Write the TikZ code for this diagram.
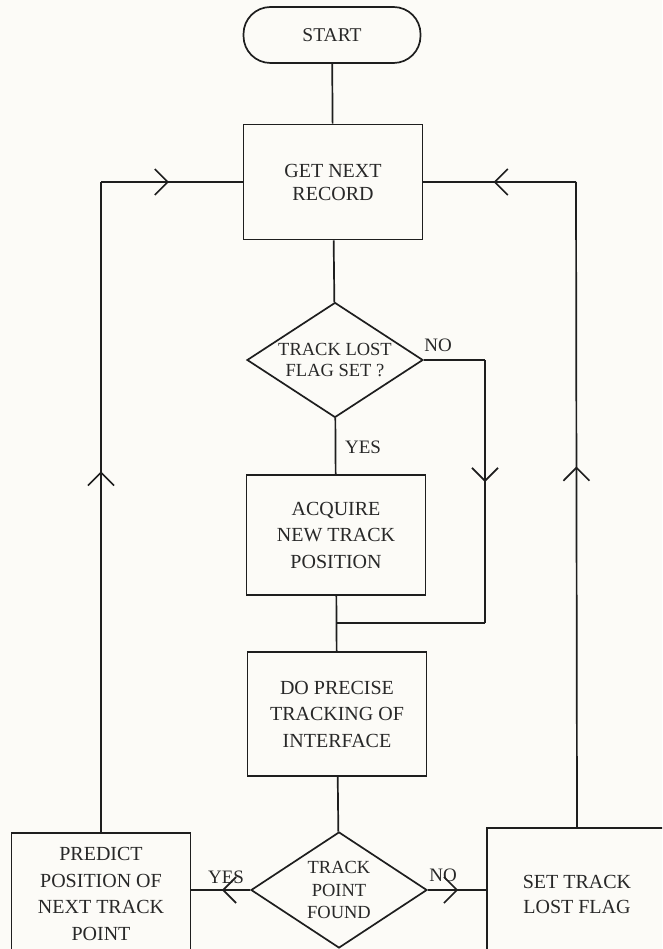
\documentclass[tikz,border=0pt]{standalone}
\usepackage{fontspec}
\setmainfont{Liberation Serif}
\usetikzlibrary{shapes.geometric,arrows.meta,decorations.markings}
\definecolor{bgcol}{RGB}{252,251,247}
\definecolor{inkcol}{RGB}{30,30,30}
\definecolor{txtcol}{RGB}{40,40,40}
\begin{document}
\begin{tikzpicture}[x=1pt,y=-1pt,
  every node/.style={text=txtcol},
  boxn/.style={draw=inkcol, line width=1.7pt, rectangle, minimum width=179pt, align=center,
    font=\fontsize{20}{26.5}\selectfont, inner sep=0pt},
  dia/.style={draw=inkcol, line width=1.7pt, shape=diamond, minimum width=176pt, minimum height=115pt,
    inner sep=-14pt, align=center, font=\fontsize{18.5}{21}\selectfont},
  lbl/.style={font=\fontsize{19}{22}\selectfont, inner sep=0pt},
  flow/.style={draw=inkcol, line width=1.7pt},
  midarrow/.style={postaction={decorate, decoration={markings,
    mark=at position #1 with {\arrow[inkcol]{Straight Barb[length=13pt,width=26pt]}}}}}
]
\fill[bgcol] (0,0) rectangle (662,949);
\useasboundingbox (0,0) rectangle (662,949);
\clip (0,0) rectangle (662,949);

% nodes
\node[draw=inkcol, line width=1.7pt, rectangle, rounded corners=27pt, minimum width=177pt,
  minimum height=56pt, font=\fontsize{19.5}{22}\selectfont] (start) at (332,35) {START};
\node[boxn, minimum height=115pt, font=\fontsize{20}{23}\selectfont] (get) at (333,182) {GET NEXT\\RECORD};
\node[dia] (d1) at (335,360) {TRACK LOST\\FLAG SET ?};
\node[boxn, minimum height=120pt] (acq) at (336,535) {ACQUIRE\\NEW TRACK\\POSITION};
\node[boxn, minimum height=124pt] (do) at (337,714) {DO PRECISE\\TRACKING OF\\INTERFACE};
\node[dia, minimum height=116pt, font=\fontsize{18.5}{22.5}\selectfont] (d2) at (339,890) {TRACK\\POINT\\FOUND};
\node[boxn, minimum height=122pt] (pred) at (101,894) {PREDICT\\POSITION OF\\NEXT TRACK\\POINT};
\node[boxn, minimum width=180pt, minimum height=132pt, font=\fontsize{20}{25}\selectfont] (set) at (577,894) {SET TRACK\\LOST FLAG};

% labels
\node[lbl] (lno1) at (438,345) {NO};
\node[lbl] (lyes1) at (363,447) {YES};
\node[lbl] (lyes2) at (226,877) {YES};
\node[lbl] (lno2) at (443,875) {NO};

% corner coordinates
\coordinate (lc) at (101,182);
\coordinate (rc) at (576,182);
\coordinate (n1) at (485,360);
\coordinate (n2) at (485,623);
\coordinate (jn) at (336,623);

% main flow
\draw[flow] (start) -- (get);
\draw[flow] (get) -- (d1);
\draw[flow] (d1) -- (acq);
\draw[flow] (acq) -- (do);
\draw[flow] (do) -- (d2);

% NO branch of first decision
\draw[flow] (d1.east) -- (n1);
\draw[flow, midarrow=0.464] (n1) -- (n2);
\draw[flow] (n2) -- (jn);

% second decision
\draw[flow, midarrow=0.48] (d2.west) -- (d2.west -| pred.east);
\draw[flow, midarrow=0.52] (d2.east) -- (d2.east -| set.west);

% loops back
\draw[flow, midarrow=0.555] (pred.north) -- (lc);
\draw[flow, midarrow=0.48] (lc) -- (get.west);
\draw[flow, midarrow=0.559] (set.north) -- (rc);
\draw[flow, midarrow=0.54] (rc) -- (get.east);
\end{tikzpicture}
\end{document}
